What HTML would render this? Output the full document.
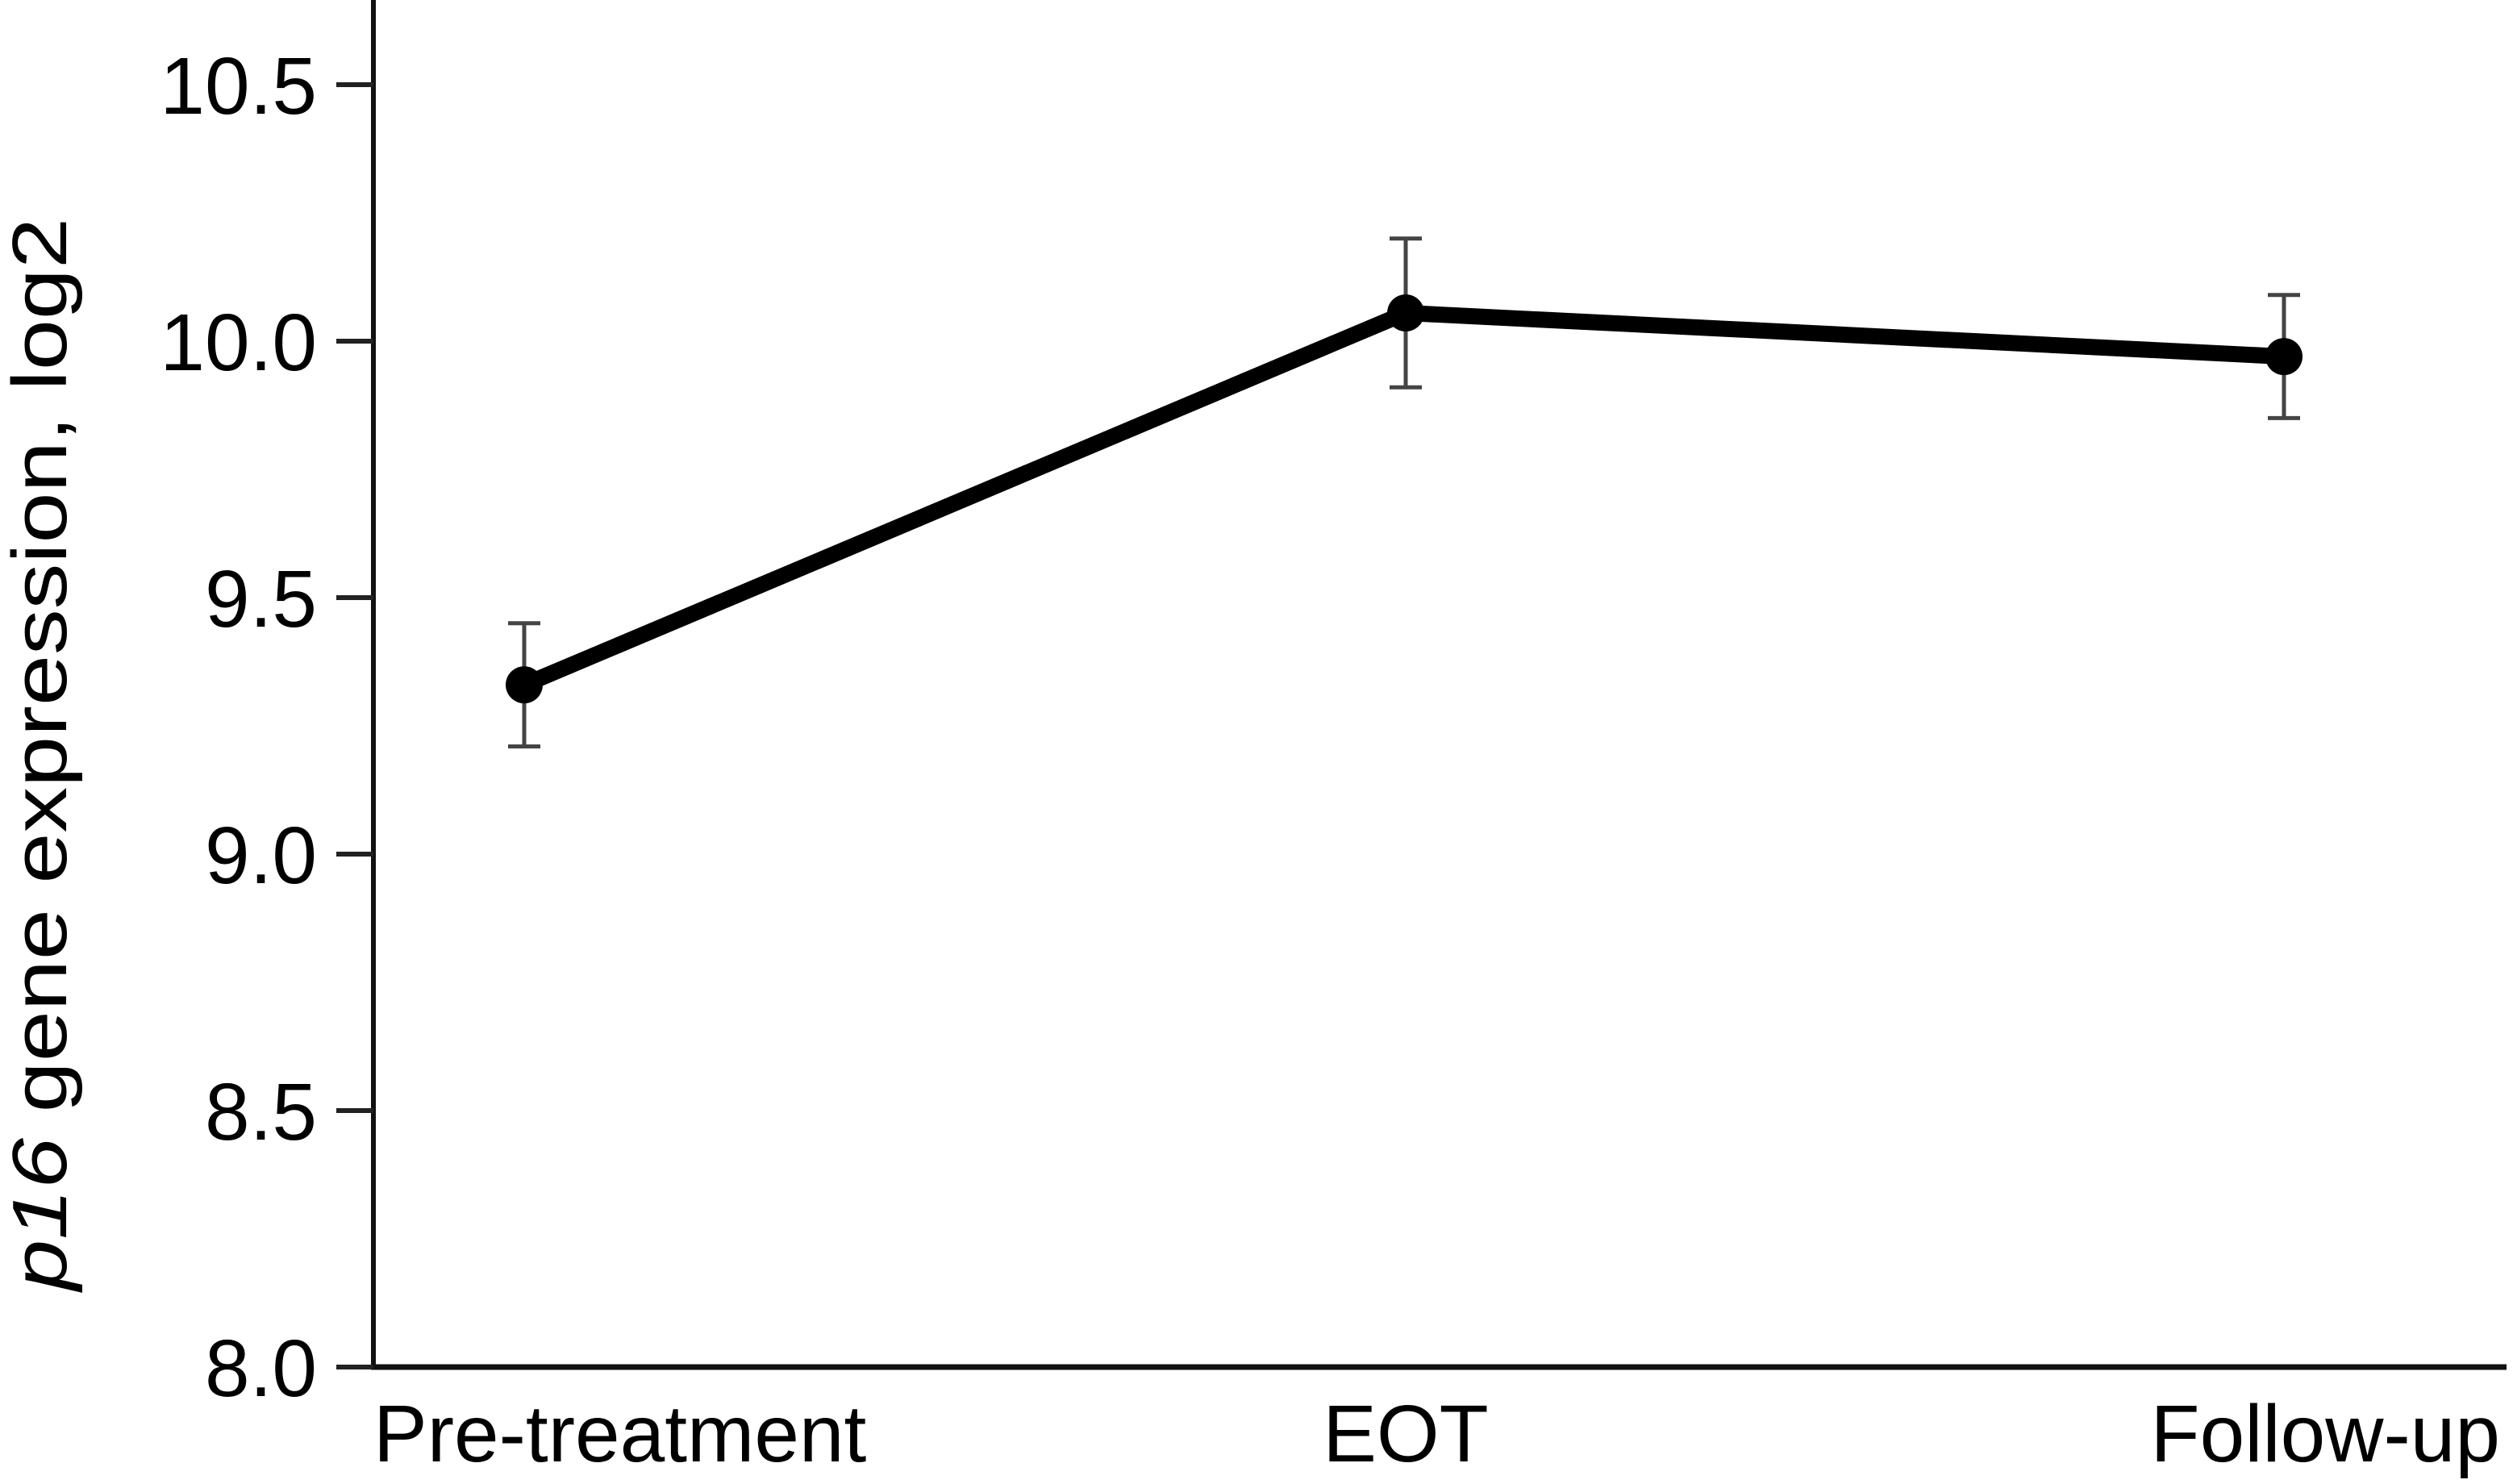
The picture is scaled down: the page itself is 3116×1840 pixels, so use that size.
<!DOCTYPE html>
<html><head><meta charset="utf-8"><style>
html,body{margin:0;padding:0;background:#fff;}
svg{display:block;font-family:"Liberation Sans",Arial,sans-serif;}
</style></head><body>
<svg id="chart" width="3116" height="1840" viewBox="0 0 3116 1840" xmlns="http://www.w3.org/2000/svg">
<g id="axes"></g>
<g id="marks"></g>
<text transform="translate(82,935) rotate(-90)" text-anchor="middle" font-size="96" textLength="1330" lengthAdjust="spacingAndGlyphs"><tspan font-style="italic">p16</tspan> gene expression, log2</text>
</svg>
<script>
const categories = ["Pre-treatment","EOT","Follow-up"];
const means = [9.33, 10.055, 9.97];
const errLow = [9.21, 9.91, 9.85];
const errHigh = [9.45, 10.20, 10.09];
const yTicks = [8.0, 8.5, 9.0, 9.5, 10.0, 10.5];
const yTickLabels = ["8.0","8.5","9.0","9.5","10.0","10.5"];

const NS="http://www.w3.org/2000/svg";
const axisX=463, axisY=1695, yMin=8.0, pxPerUnit=636;
const catX=[650,1743,2832];
function y(v){return axisY-(v-yMin)*pxPerUnit;}
function x(i){return catX[i];}
function mk(tag,attrs,parent){const e=document.createElementNS(NS,tag);for(const k in attrs)e.setAttribute(k,attrs[k]);parent.appendChild(e);return e;}
const axes=document.getElementById('axes'), marks=document.getElementById('marks');

let yl=mk('line',{x1:axisX,y1:0,x2:axisX,y2:axisY+3,stroke:'#111','stroke-width':6},axes);


let xl=mk('line',{x1:axisX-3,y1:axisY,x2:3108,y2:axisY,stroke:'#111','stroke-width':7},axes);



yTicks.forEach((v,i)=>{
  const t=mk('line',{x1:417,y1:y(v),x2:axisX,y2:y(v),stroke:'#222','stroke-width':6},axes);
  
  
  const lb=mk('text',{x:393,y:y(v)+36,'text-anchor':'end','font-size':100},axes);
  
  
  lb.textContent=yTickLabels[i];
});
const anchors=['start','middle','end'];
const lx=[463,1743,3100];
categories.forEach((c,i)=>{
  const lb=mk('text',{x:lx[i],y:1812,'text-anchor':anchors[i],'font-size':100},axes);
  
  
  lb.textContent=c;
});

// error bars
means.forEach((m,i)=>{
  const g=mk('g',{stroke:'#444','stroke-width':5},marks);
  
  
  mk('line',{x1:x(i),y1:y(errLow[i]),x2:x(i),y2:y(errHigh[i])},g);
  mk('line',{x1:x(i)-20,y1:y(errLow[i]),x2:x(i)+20,y2:y(errLow[i])},g);
  mk('line',{x1:x(i)-20,y1:y(errHigh[i]),x2:x(i)+20,y2:y(errHigh[i])},g);
});
const pts=means.map((m,i)=>x(i)+','+y(m)).join(' ');
const pl=mk('polyline',{points:pts,fill:'none',stroke:'#000','stroke-width':20,'stroke-linejoin':'round'},marks);


means.forEach((m,i)=>{
  const c=mk('circle',{cx:x(i),cy:y(m),r:23,fill:'#000'},marks);
  
  
});
</script>
</body></html>
